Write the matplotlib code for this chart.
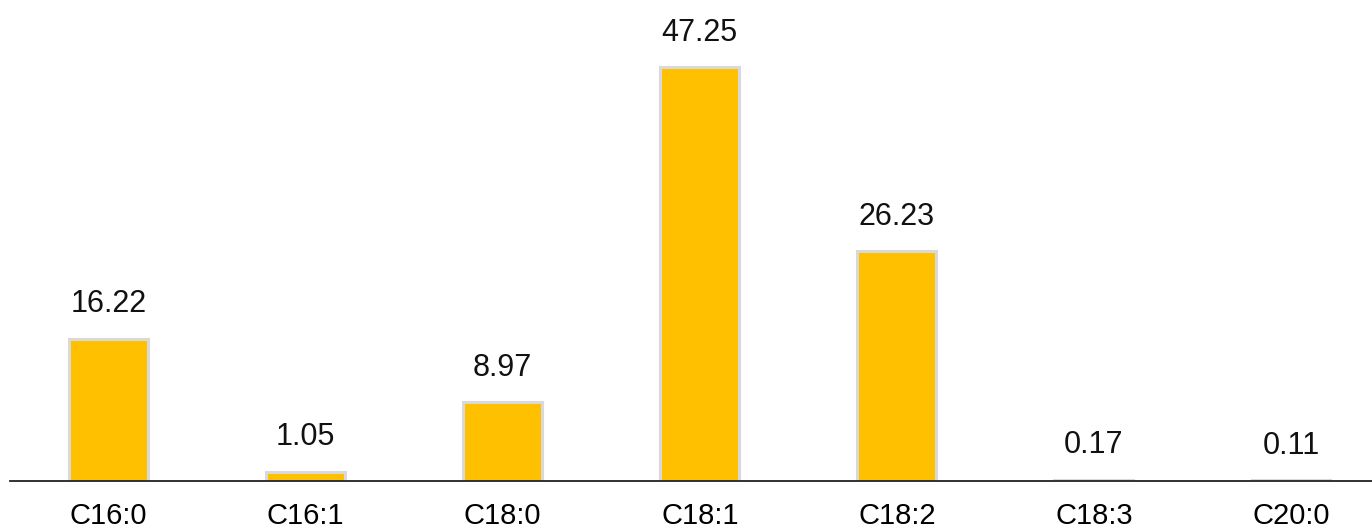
import numpy as np
import matplotlib.pyplot as plt

categories = ["C16:0", "C16:1", "C18:0", "C18:1", "C18:2", "C18:3", "C20:0"]
values = [16.22, 1.05, 8.97, 47.25, 26.23, 0.17, 0.11]

plt.rcParams['font.family'] = ['Liberation Sans', 'DejaVu Sans']

fig = plt.figure(figsize=(13.72, 5.32), dpi=100)
ax = fig.add_axes([10 / 1372, 1 - 481 / 532, 1 - 10 / 1372, 481 / 532])

x = np.arange(len(categories))
bars = ax.bar(x, values, width=0.4, color='#ffc000', edgecolor='#d9d9d9', linewidth=2.2)

for xi, v in zip(x, values):
    ax.annotate(f"{v:.2f}", (xi, v), xytext=(0, 14), textcoords='offset points',
                ha='center', va='bottom', fontsize=22, color='#111111')

ax.set_xlim(-0.5, (1372 - 109) / 197)
ax.set_ylim(0, 481 / 8.76)
ax.set_xticks(x)
ax.set_xticklabels(categories, fontsize=21)
ax.tick_params(axis='x', length=0, pad=15)
ax.set_yticks([])
for s in ['top', 'right', 'left']:
    ax.spines[s].set_visible(False)
ax.spines['bottom'].set_color('#222222')
ax.spines['bottom'].set_linewidth(1.3)

fig.savefig("out.png", dpi=100)
